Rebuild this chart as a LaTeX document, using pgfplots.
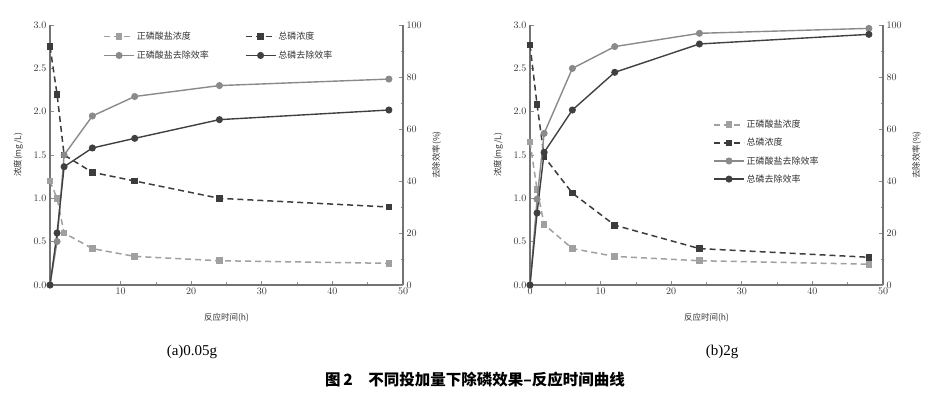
\documentclass[border=0pt]{standalone}
\usepackage{pgfplots}
\pgfplotsset{compat=1.18}
\usepackage{fontspec}
\setmainfont{Liberation Serif}
\newfontfamily\cjk{Noto Sans CJK SC}
\definecolor{oc}{HTML}{A0A0A0}
\definecolor{tc}{HTML}{3C3C3C}
\definecolor{oe}{HTML}{8A8A8A}
\definecolor{te}{HTML}{404040}
\pgfplotsset{
  base/.style={scale only axis, width=353pt, height=260pt, xmin=0, xmax=50,
    axis line style={black!55, line width=1.2pt}, tick style={black!45, line width=0.8pt},
    tick align=inside, major tick length=4pt, minor tick length=2.5pt,
    ticklabel style={font=\fontsize{10}{12}\selectfont, text=black!80},
    label style={font=\cjk\fontsize{8.5}{10}\selectfont, text=black!80},
    legend image code/.code={\draw[mark repeat=2,mark phase=2,##1] plot coordinates {(0pt,0pt) (15pt,0pt) (30pt,0pt)};},
  },
  left/.style={base, ymin=0, ymax=3, ytick={0,0.5,...,3}, axis x line*=bottom, axis y line*=left,
    yticklabel style={/pgf/number format/.cd, fixed, fixed zerofill, precision=1},
    minor x tick num=1, xlabel={反应时间(h)}, ylabel={浓度(mg/L)},
    ylabel style={at={(axis description cs:-0.09,0.5)}, anchor=center, rotate=0},
    xlabel style={at={(axis description cs:0.5,-0.125)}, anchor=center}},
  right/.style={base, ymin=0, ymax=100, ytick={0,20,...,100}, minor y tick num=1,
    axis x line=none, axis y line*=right, ylabel={去除效率(\%)},
    ylabel style={at={(axis description cs:1.095,0.5)}, anchor=center, rotate=0}},
  sOC/.style={oc, line width=1.5pt, dash pattern=on 6pt off 4pt, mark=square*, mark size=2.6pt, mark options={solid, fill=oc}},
  sTC/.style={tc, line width=1.5pt, dash pattern=on 6pt off 4pt, mark=square*, mark size=2.6pt, mark options={solid, fill=tc}},
  sOE/.style={oe, line width=1.4pt, mark=*, mark size=2.8pt, mark options={solid, fill=oe}},
  sTE/.style={te, line width=1.4pt, mark=*, mark size=2.8pt, mark options={solid, fill=te}},
}
\begin{document}
\begin{tikzpicture}[x=1pt,y=1pt]
\useasboundingbox (0,0) rectangle (949,393);
% ---------- panel (a) ----------
\begin{axis}[left, at={(50pt,108pt)}, anchor=south west, xtick={10,20,...,50}]
\addplot[sOC] coordinates {(0,1.2)(1,1.0)(2,0.6)(6,0.42)(12,0.33)(24,0.28)(48,0.25)};
\addplot[sTC] coordinates {(0,2.75)(1,2.2)(2,1.5)(6,1.3)(12,1.2)(24,1.0)(48,0.9)};
\end{axis}
\begin{axis}[right, at={(50pt,108pt)}, anchor=south west,
  legend columns=2, legend cell align=left,
  legend style={draw=none, fill=none, font=\cjk\fontsize{9}{11}\selectfont, text=black!80,
    at={(0.142,0.99)}, anchor=north west, row sep=6pt,
    /tikz/every even column/.append style={column sep=34pt}}]
\addlegendimage{sOC}\addlegendentry{正磷酸盐浓度}
\addlegendimage{sTC}\addlegendentry{总磷浓度}
\addplot[sOE] coordinates {(0,0)(1,16.7)(2,50)(6,65)(12,72.5)(24,76.7)(48,79.2)};
\addlegendentry{正磷酸盐去除效率}
\addplot[sTE] coordinates {(0,0)(1,20)(2,45.5)(6,52.7)(12,56.4)(24,63.6)(48,67.3)};
\addlegendentry{总磷去除效率}
\end{axis}
% ---------- panel (b) ----------
\begin{axis}[left, at={(530pt,108pt)}, anchor=south west, xtick={0,10,...,50}]
\addplot[sOC] coordinates {(0,1.65)(1,1.1)(2,0.7)(6,0.42)(12,0.33)(24,0.28)(48,0.24)};
\addplot[sTC] coordinates {(0,2.77)(1,2.08)(2,1.48)(6,1.06)(12,0.69)(24,0.42)(48,0.32)};
\end{axis}
\begin{axis}[right, at={(530pt,108pt)}, anchor=south west,
  legend columns=1, legend cell align=left,
  legend style={draw=none, fill=none, font=\cjk\fontsize{9}{11}\selectfont, text=black!80,
    at={(0.51,0.65)}, anchor=north west, row sep=5pt}]
\addlegendimage{sOC}\addlegendentry{正磷酸盐浓度}
\addlegendimage{sTC}\addlegendentry{总磷浓度}
\addplot[sOE] coordinates {(0,0)(1,33)(2,58.3)(6,83.3)(12,91.7)(24,96.8)(48,98.7)};
\addlegendentry{正磷酸盐去除效率}
\addplot[sTE] coordinates {(0,0)(1,27.7)(2,51)(6,67.3)(12,81.8)(24,92.7)(48,96.4)};
\addlegendentry{总磷去除效率}
\end{axis}
% ---------- captions ----------
\node[font=\fontsize{15}{17}\selectfont] at (192,41) {(a)0.05g};
\node[font=\fontsize{15}{17}\selectfont] at (722,41) {(b)2g};
\node[font=\cjk\bfseries\fontsize{15.5}{18}\selectfont] at (475,13) {图\,2\quad 不同投加量下除磷效果–反应时间曲线};
\end{tikzpicture}
\end{document}
